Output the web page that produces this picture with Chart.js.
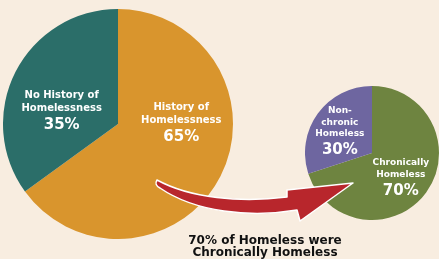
<!DOCTYPE html>
<html>
<head>
<meta charset="utf-8">
<script src="https://cdn.jsdelivr.net/npm/chart.js@4/dist/chart.umd.min.js"></script>
<style>
	body { margin: 0; background: #f8ede0; width: 439px; height: 259px; overflow: hidden; position: relative; font-family: 'DejaVu Sans', sans-serif; }
	.pie { position: absolute; }
	#historyWrap { left: 3px; top: 9px; width: 230px; height: 230px; }
	#chronicWrap { left: 305px; top: 86px; width: 134px; height: 134px; }
	#arrow { position: absolute; left: 0; top: 0; pointer-events: none; }
	#caption { position: absolute; left: 155px; top: 234px; width: 220px; text-align: center; font-weight: bold; font-size: 12px; line-height: 12px; color: #111; }
</style>
</head>
<body>
<div class="pie" id="historyWrap"><canvas id="historyPie"></canvas></div>
<div class="pie" id="chronicWrap"><canvas id="chronicPie"></canvas></div>
<svg id="arrow" width="439" height="259">
	<path d="M157,180 C190,198 240,203 287,197 L287,190 L353,183 L300,221 L297,210 C250,218 195,212 160,188 Q154,185 157,180 Z"
		fill="#b8262c" stroke="#fff" stroke-width="1.5" stroke-linejoin="round"/>
</svg>
<div id="caption">70% of Homeless were<br>Chronically Homeless</div>
<script>
const historyLabels = ['History of Homelessness', 'No History of Homelessness'];
const historyValues = [65, 35];
const chronicLabels = ['Chronically Homeless', 'Non-chronic Homeless'];
const chronicValues = [70, 30];

// label text lines and where to put them (fraction of radius from center)
const historyText = [
	{ lines: ['History of', 'Homelessness'], dx: 0.55, dy: -0.14 },
	{ lines: ['No History of', 'Homelessness'], dx: -0.49, dy: -0.25 }
];
const chronicText = [
	{ lines: ['Chronically', 'Homeless'], dx: 0.43, dy: 0.15 },
	{ lines: ['Non-', 'chronic', 'Homeless'], dx: -0.48, dy: -0.63 }
];

const sliceLabels = {
	id: 'sliceLabels',
	afterDatasetsDraw(chart, args, opts) {
		const ctx = chart.ctx;
		const arc = chart.getDatasetMeta(0).data[0];
		const cx = arc.x, cy = arc.y, r = arc.outerRadius;
		const values = chart.data.datasets[0].data;
		ctx.save();
		ctx.fillStyle = '#fff';
		ctx.textAlign = 'center';
		ctx.textBaseline = 'middle';
		opts.text.forEach((t, i) => {
			let x = cx + t.dx * r;
			let y = cy + t.dy * r;
			ctx.font = `bold ${opts.size}px 'DejaVu Sans', sans-serif`;
			t.lines.forEach((line, j) => {
				ctx.fillText(line, x, y + j * opts.lineH);
			});
			ctx.font = `bold ${opts.pctSize}px 'DejaVu Sans', sans-serif`;
			ctx.fillText(values[i] + '%', x, y + t.lines.length * opts.lineH + opts.pctGap);
		});
		ctx.restore();
	}
};

const pieOptions = (text, size, lineH, pctSize, pctGap) => ({
	responsive: true,
	maintainAspectRatio: false,
	animation: false,
	layout: { padding: 0 },
	plugins: {
		legend: { display: false },
		tooltip: { enabled: false },
		sliceLabels: { text: text, size: size, lineH: lineH, pctSize: pctSize, pctGap: pctGap }
	}
});

new Chart(document.getElementById('historyPie').getContext('2d'), {
	type: 'pie',
	data: {
		labels: historyLabels,
		datasets: [{
			data: historyValues,
			backgroundColor: ['#d9952d', '#2b6e69'],
			borderWidth: 0
		}]
	},
	options: pieOptions(historyText, 10, 13, 15, 3.5),
	plugins: [sliceLabels]
});

new Chart(document.getElementById('chronicPie').getContext('2d'), {
	type: 'pie',
	data: {
		labels: chronicLabels,
		datasets: [{
			data: chronicValues,
			backgroundColor: ['#6e8440', '#6e66a0'],
			borderWidth: 0
		}]
	},
	options: pieOptions(chronicText, 9, 11.5, 15, 5),
	plugins: [sliceLabels]
});
</script>
</body>
</html>
